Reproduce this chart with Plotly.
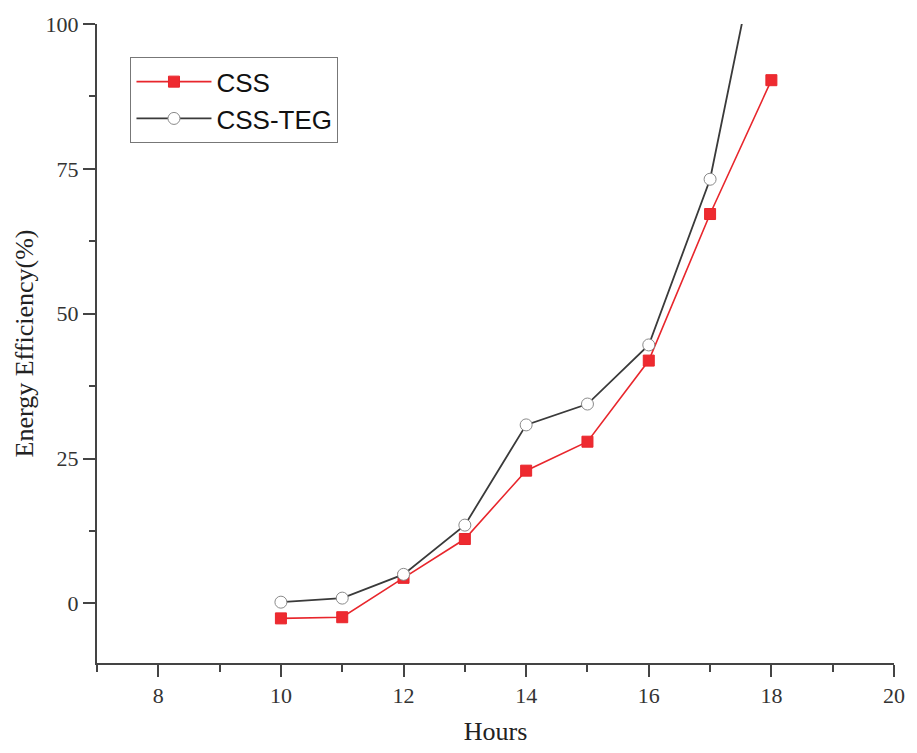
import plotly.graph_objects as go

hours = [10, 11, 12, 13, 14, 15, 16, 17, 18]
css = [-2.6, -2.4, 4.4, 11.1, 22.9, 27.9, 41.9, 67.2, 90.3]
css_teg = [0.2, 0.9, 5.0, 13.5, 30.8, 34.4, 44.6, 73.2, 125.0]

fig = go.Figure()
fig.add_trace(go.Scatter(
    x=hours, y=css, name="CSS", mode="lines+markers",
    line=dict(color="#e8262c", width=1.6),
    marker=dict(symbol="square", size=11, color="#ee2a30", line=dict(color="#e8262c", width=1)),
    cliponaxis=True,
))
fig.add_trace(go.Scatter(
    x=hours, y=css_teg, name="CSS-TEG", mode="lines+markers",
    line=dict(color="#3a3a3a", width=1.8),
    marker=dict(symbol="circle", size=12, color="white", line=dict(color="#8a8a8a", width=1)),
    cliponaxis=True,
))

axis_font = dict(family="Liberation Serif, Times New Roman, serif", size=22, color="#333333")
title_font = dict(family="Liberation Serif, Times New Roman, serif", size=26, color="#222222")
fig.update_layout(
    width=917, height=753,
    margin=dict(l=97, r=19, t=21, b=88),
    paper_bgcolor="white", plot_bgcolor="white",
    showlegend=True,
    legend=dict(
        x=0.042, y=0.948, xanchor="left", yanchor="top",
        bgcolor="white", bordercolor="#777777", borderwidth=1,
        font=dict(family="Liberation Sans, Arial, sans-serif", size=26, color="#111111"),
        tracegroupgap=0, itemwidth=75,
    ),
    xaxis=dict(
        range=[7, 20], showline=True, linecolor="#444444", linewidth=2,
        ticks="outside", ticklen=12, tickwidth=2, tickcolor="#444444",
        dtick=2, tick0=0, showgrid=False, zeroline=False,
        minor=dict(ticks="outside", ticklen=7, tickwidth=2, tickcolor="#444444", dtick=1, showgrid=False),
        tickfont=axis_font,
        title=dict(text="Hours", font=title_font, standoff=14),
    ),
    yaxis=dict(
        range=[-10.3, 100], showline=True, linecolor="#444444", linewidth=2,
        ticks="outside", ticklen=12, tickwidth=2, tickcolor="#444444",
        dtick=25, tick0=0, showgrid=False, zeroline=False,
        minor=dict(ticks="outside", ticklen=6, tickwidth=2, tickcolor="#444444", dtick=12.5, showgrid=False),
        tickfont=axis_font,
        title=dict(text="Energy Efficiency(%)", font=title_font, standoff=4),
    ),
)

fig.write_html("out.html")
